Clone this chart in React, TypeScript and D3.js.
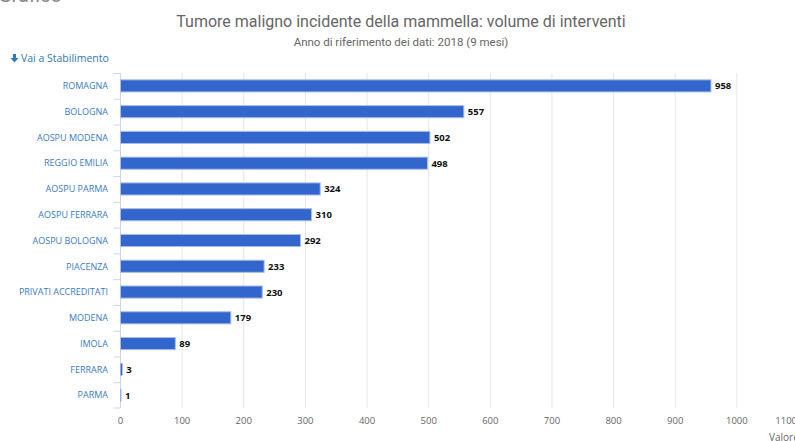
import React from "react";
import * as d3 from "d3";

const categories = [
  "ROMAGNA",
  "BOLOGNA",
  "AOSPU MODENA",
  "REGGIO EMILIA",
  "AOSPU PARMA",
  "AOSPU FERRARA",
  "AOSPU BOLOGNA",
  "PIACENZA",
  "PRIVATI ACCREDITATI",
  "MODENA",
  "IMOLA",
  "FERRARA",
  "PARMA",
];
const values = [958, 557, 502, 498, 324, 310, 292, 233, 230, 179, 89, 3, 1];
const xTicks = [0, 100, 200, 300, 400, 500, 600, 700, 800, 900, 1000, 1100];

const title = "Tumore maligno incidente della mammella: volume di interventi";
const subtitle = "Anno di riferimento dei dati: 2018 (9 mesi)";

export default function App() {
  const W = 795;
  const H = 441;
  const left = 120.5;
  const right = 798.5;
  const top = 73;
  const bottom = 408;
  const x = d3.scaleLinear().domain([0, 1100]).range([left, right]);
  const y = d3.scaleBand().domain(categories).range([top, bottom]).paddingInner(0.53).paddingOuter(0.265);
  const yb = d3.scaleBand().domain(categories).range([top, bottom]);
  const font = "Roboto, 'Open Sans', sans-serif";
  const labelFont = "'Open Sans', 'Noto Sans', sans-serif";

  return (
    <svg
      width={W}
      height={H}
      style={{ position: "absolute", left: 0, top: 0, background: "#fff" }}
      fontFamily={font}
    >
      <text x={-2} y={1.5} fontSize={20} fill="#888">Grafico</text>
      <text x={401} y={27} textAnchor="middle" fontSize={16} fill="#666">{title}</text>
      <text x={401} y={46} textAnchor="middle" fontSize={11.5} fill="#666">{subtitle}</text>
      <g fill="#337ab7">
        <path d="M13 54 h3 v4 h2.5 l-4 4.5 l-4 -4.5 h2.5 z" />
        <text x={21} y={62} fontSize={10.5} fontFamily={labelFont}>Vai a Stabilimento</text>
      </g>
      {xTicks.slice(1).map((t) => (
        <line key={t} x1={x(t)} x2={x(t)} y1={top} y2={bottom} stroke="#e6e6e6" strokeWidth={1} />
      ))}
      <line x1={left} x2={left} y1={top} y2={bottom} stroke="#ccd6eb" strokeWidth={1} />
      {categories.map((c) => (
        <line key={"t" + c} x1={left - 7} x2={left} y1={(yb(c) as number) + 0.5} y2={(yb(c) as number) + 0.5} stroke="#ccd6eb" />
      ))}
      <line x1={left - 7} x2={left} y1={bottom} y2={bottom} stroke="#ccd6eb" />
      {categories.map((c, i) => {
        const cy = (yb(c) as number) + yb.bandwidth() / 2;
        return (
          <g key={c}>
            <rect
              x={x(0)}
              y={y(c) as number}
              width={Math.max(0, x(values[i]) - x(0))}
              height={y.bandwidth()}
              fill="#3366cc"
              stroke="#a8bde8"
              strokeWidth={values[i] > 5 ? 1 : 0.5}
            />
            <text x={108} y={cy + 3.3} textAnchor="end" fontSize={9} fill="#3a7bbf" fontFamily={labelFont}>{c}</text>
            <text x={x(values[i]) + 4} y={cy + 3.5} fontSize={9.5} fontWeight="bold" fill="#111" fontFamily={labelFont}>{values[i]}</text>
          </g>
        );
      })}
      {xTicks.map((t) => (
        <text key={"l" + t} x={t === 1100 ? 797 : x(t)} y={424} textAnchor={t === 1100 ? "end" : "middle"} fontSize={9.5} fill="#666" fontFamily={labelFont}>{t}</text>
      ))}
      <text x={769} y={441} fontSize={10} fill="#666" fontFamily={labelFont}>Valore</text>
    </svg>
  );
}
